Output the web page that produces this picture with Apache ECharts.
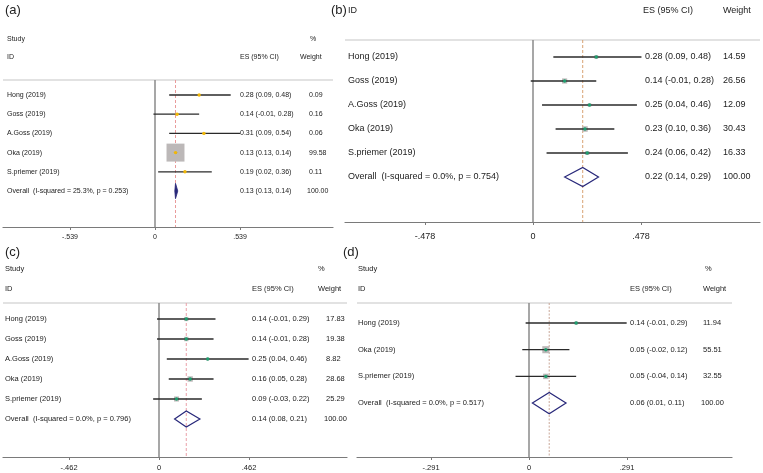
<!DOCTYPE html>
<html><head><meta charset="utf-8">
<script src="https://cdn.jsdelivr.net/npm/echarts@6/dist/echarts.min.js"></script>
<style>html,body{margin:0;padding:0;background:#fff}#c{width:763px;height:473px}</style>
</head><body><div id="c"></div>
<script>
// ---------------- DATA ----------------
const studiesA = ['Hong (2019)', 'Goss (2019)', 'A.Goss (2019)', 'Oka (2019)', 'S.priemer (2019)'];
const esA = [0.28, 0.14, 0.31, 0.13, 0.19];
const lowA = [0.09, -0.01, 0.09, 0.13, 0.02];
const highA = [0.48, 0.28, 0.54, 0.14, 0.36];
const weightA = [0.09, 0.16, 0.06, 99.58, 0.11];
const overallA = [0.13, 0.13, 0.14];
const overallLabelA = 'Overall  (I-squared = 25.3%, p = 0.253)';
const tickA = 0.539;

const studiesB = ['Hong (2019)', 'Goss (2019)', 'A.Goss (2019)', 'Oka (2019)', 'S.priemer (2019)'];
const esB = [0.28, 0.14, 0.25, 0.23, 0.24];
const lowB = [0.09, -0.01, 0.04, 0.10, 0.06];
const highB = [0.48, 0.28, 0.46, 0.36, 0.42];
const weightB = [14.59, 26.56, 12.09, 30.43, 16.33];
const overallB = [0.22, 0.14, 0.29];
const overallLabelB = 'Overall  (I-squared = 0.0%, p = 0.754)';
const tickB = 0.478;

const studiesC = ['Hong (2019)', 'Goss (2019)', 'A.Goss (2019)', 'Oka (2019)', 'S.priemer (2019)'];
const esC = [0.14, 0.14, 0.25, 0.16, 0.09];
const lowC = [-0.01, -0.01, 0.04, 0.05, -0.03];
const highC = [0.29, 0.28, 0.46, 0.28, 0.22];
const weightC = [17.83, 19.38, 8.82, 28.68, 25.29];
const overallC = [0.14, 0.08, 0.21];
const overallLabelC = 'Overall  (I-squared = 0.0%, p = 0.796)';
const tickC = 0.462;

const studiesD = ['Hong (2019)', 'Oka (2019)', 'S.priemer (2019)'];
const esD = [0.14, 0.05, 0.05];
const lowD = [-0.01, -0.02, -0.04];
const highD = [0.29, 0.12, 0.14];
const weightD = [11.94, 55.51, 32.55];
const overallD = [0.06, 0.01, 0.11];
const overallLabelD = 'Overall  (I-squared = 0.0%, p = 0.517)';
const tickD = 0.291;

const overallWeight = 100;

// ---------------- LAYOUT / STYLE ----------------
const FONT = '"Liberation Sans", Arial, Helvetica, sans-serif';
const TXT = '#222';
const panels = [
  {studies: studiesA, es: esA, low: lowA, high: highA, w: weightA, ov: overallA, ovLabel: overallLabelA, tick: tickA,
   L: 3, R: 333, T: 80, B: 227, zeroX: 155, tickPx: 85, y0: 95, step: 19.2, margin: 7,
   nameX: 7, esX: 240, wX: 309, fs: 7, boxK: 1.8, dot: '#f2b705', dash: '#e99b9b', dashType: [3, 2], filled: true,
   headers: [['Study', 7, 39], ['%', 310, 39], ['ID', 7, 57], ['ES (95% CI)', 240, 57], ['Weight', 300, 57]],
   label: ['(a)', 5, 10]},
  {studies: studiesB, es: esB, low: lowB, high: highB, w: weightB, ov: overallB, ovLabel: overallLabelB, tick: tickB,
   L: 345, R: 760, T: 40, B: 222, zeroX: 533, tickPx: 108, y0: 57, step: 24, margin: 10,
   nameX: 348, esX: 645, wX: 723, fs: 9, boxK: 1.0, dot: '#1f9e6f', dash: '#d9a273', dashType: [3, 2], filled: false,
   headers: [['ID', 348, 11], ['ES (95% CI)', 643, 11], ['Weight', 723, 11]],
   label: ['(b)', 331, 10]},
  {studies: studiesC, es: esC, low: lowC, high: highC, w: weightC, ov: overallC, ovLabel: overallLabelC, tick: tickC,
   L: 3, R: 347, T: 303, B: 457, zeroX: 159, tickPx: 90, y0: 319, step: 20, margin: 7,
   nameX: 5, esX: 252, wX: 326, fs: 7.5, boxK: 1.0, dot: '#1f9e6f', dash: '#eaa0a8', dashType: [3, 2], filled: false,
   headers: [['Study', 5, 269], ['%', 318, 269], ['ID', 5, 289], ['ES (95% CI)', 252, 289], ['Weight', 318, 289]],
   label: ['(c)', 5, 252]},
  {studies: studiesD, es: esD, low: lowD, high: highD, w: weightD, ov: overallD, ovLabel: overallLabelD, tick: tickD,
   L: 357, R: 732, T: 303, B: 457, zeroX: 529, tickPx: 98, y0: 323, step: 26.7, margin: 7,
   nameX: 358, esX: 630, wX: 703, fs: 7.5, boxK: 0.95, dot: '#1f9e6f', dash: '#c9a898', dashType: [2, 1.5], filled: false,
   headers: [['Study', 358, 269], ['%', 705, 269], ['ID', 358, 289], ['ES (95% CI)', 630, 289], ['Weight', 703, 289]],
   label: ['(d)', 343, 252]}
];

function fmtTick(v) {
  if (Math.abs(v) < 1e-9) return '0';
  return (v < 0 ? '-' : '') + Math.abs(v).toFixed(3).replace(/^0/, '');
}
function esText(e, l, h) { return e.toFixed(2) + ' (' + l.toFixed(2) + ', ' + h.toFixed(2) + ')'; }

const grids = [], xAxes = [], yAxes = [], series = [], graphics = [];
panels.forEach((p, k) => {
  const ppu = p.tickPx / p.tick;
  const xMin = (p.L - p.zeroX) / ppu, xMax = (p.R - p.zeroX) / ppu;
  const yMin = (p.T - p.y0) / p.step, yMax = (p.B - p.y0) / p.step;
  grids.push({left: p.L, top: p.T, width: p.R - p.L, height: p.B - p.T, containLabel: false, outerBoundsMode: 'none'});
  xAxes.push({type: 'value', gridIndex: k, min: xMin, max: xMax, position: 'bottom',
    axisLine: {show: true, onZero: false, lineStyle: {color: '#7a7a7a', width: 1.2}},
    axisTick: {show: true, length: 3, customValues: [-p.tick, 0, p.tick], lineStyle: {color: '#7a7a7a'}},
    axisLabel: {show: true, customValues: [-p.tick, 0, p.tick], formatter: fmtTick, color: TXT,
      fontFamily: FONT, fontSize: p.fs, margin: p.margin, showMinLabel: true, showMaxLabel: true},
    splitLine: {show: false}});
  yAxes.push({type: 'value', gridIndex: k, inverse: true, min: yMin, max: yMax, show: false, splitLine: {show: false},
    axisLine: {onZero: false}});
  const font = p.fs + 'px ' + FONT;
  // studies
  series.push({type: 'custom', xAxisIndex: k, yAxisIndex: k, clip: false, z: 3,
    data: p.es.map((v, i) => [v, i]),
    encode: {x: 0, y: 1},
    renderItem: (params, api) => {
      const i = params.dataIndex;
      const pE = api.coord([p.es[i], i]);
      const pL = api.coord([p.low[i], i]);
      const pH = api.coord([p.high[i], i]);
      const y = pE[1];
      const side = p.boxK * Math.sqrt(p.w[i]);
      return {type: 'group', children: [
        {type: 'rect', shape: {x: pE[0] - side / 2, y: y - side / 2, width: side, height: side}, style: {fill: '#bcb8b8'}},
        {type: 'line', shape: {x1: pL[0], y1: y, x2: pH[0], y2: y}, style: {stroke: '#2a2a2a', lineWidth: 1.3}},
        {type: 'circle', shape: {cx: pE[0], cy: y, r: 1.7}, style: {fill: p.dot}},
        {type: 'text', style: {text: p.studies[i], x: p.nameX, y: y, font: font, fill: TXT, textAlign: 'left', textVerticalAlign: 'middle'}},
        {type: 'text', style: {text: esText(p.es[i], p.low[i], p.high[i]), x: p.esX, y: y, font: font, fill: TXT, textAlign: 'left', textVerticalAlign: 'middle'}},
        {type: 'text', style: {text: p.w[i].toFixed(2), x: p.wX, y: y, font: font, fill: TXT, textAlign: 'left', textVerticalAlign: 'middle'}}
      ]};
    }});
  // overall + reference lines
  const n = p.studies.length;
  series.push({type: 'custom', xAxisIndex: k, yAxisIndex: k, clip: false, z: 2,
    data: [[p.ov[0], n]],
    encode: {x: 0, y: 1},
    renderItem: (params, api) => {
      const zt = api.coord([0, yMin]), zb = api.coord([0, yMax]);
      const dt = api.coord([p.ov[0], yMin]), db = api.coord([p.ov[0], yMax]);
      const a = api.coord([p.ov[1], n]), c = api.coord([p.ov[0], n - 0.4]);
      const b = api.coord([p.ov[2], n]), d = api.coord([p.ov[0], n + 0.4]);
      const y = a[1];
      const ext = p.filled ? 0.7 : 0;
      return {type: 'group', children: [
        {type: 'line', shape: {x1: zt[0], y1: zt[1], x2: zb[0], y2: zb[1]}, style: {stroke: '#8a8a8a', lineWidth: 1.5}},
        {type: 'line', shape: {x1: dt[0], y1: dt[1], x2: db[0], y2: db[1]}, style: {stroke: p.dash, lineWidth: 1, lineDash: p.dashType}},
        {type: 'polygon', shape: {points: [[a[0] - ext, a[1]], c, [b[0] + ext, b[1]], d]},
          style: {fill: p.filled ? '#28287a' : 'rgba(255,255,255,0)', stroke: '#28287a', lineWidth: p.filled ? 0.8 : 1.2}},
        {type: 'text', style: {text: p.ovLabel, x: p.nameX, y: y, font: font, fill: TXT, textAlign: 'left', textVerticalAlign: 'middle'}},
        {type: 'text', style: {text: esText(p.ov[0], p.ov[1], p.ov[2]), x: p.esX, y: y, font: font, fill: TXT, textAlign: 'left', textVerticalAlign: 'middle'}},
        {type: 'text', style: {text: overallWeight.toFixed(2), x: p.wX - (k === 1 ? 0 : 2), y: y, font: font, fill: TXT, textAlign: 'left', textVerticalAlign: 'middle'}}
      ]};
    }});
  // separator
  graphics.push({type: 'rect', shape: {x: p.L, y: p.T - 1, width: p.R - p.L, height: 2}, style: {fill: '#e2e2e2'}, z: 1});
  p.headers.forEach(h => graphics.push({type: 'text', x: h[1], y: h[2],
    style: {text: h[0], font: p.fs + 'px ' + FONT, fill: TXT, textAlign: 'left', textVerticalAlign: 'middle'}}));
  graphics.push({type: 'text', x: p.label[1], y: p.label[2],
    style: {text: p.label[0], font: '13px ' + FONT, fill: TXT, textAlign: 'left', textVerticalAlign: 'middle'}});
});

const chart = echarts.init(document.getElementById('c'), null, {renderer: 'canvas'});
chart.setOption({
  animation: false,
  backgroundColor: '#ffffff',
  grid: grids, xAxis: xAxes, yAxis: yAxes, series: series, graphic: graphics
});
</script></body></html>
